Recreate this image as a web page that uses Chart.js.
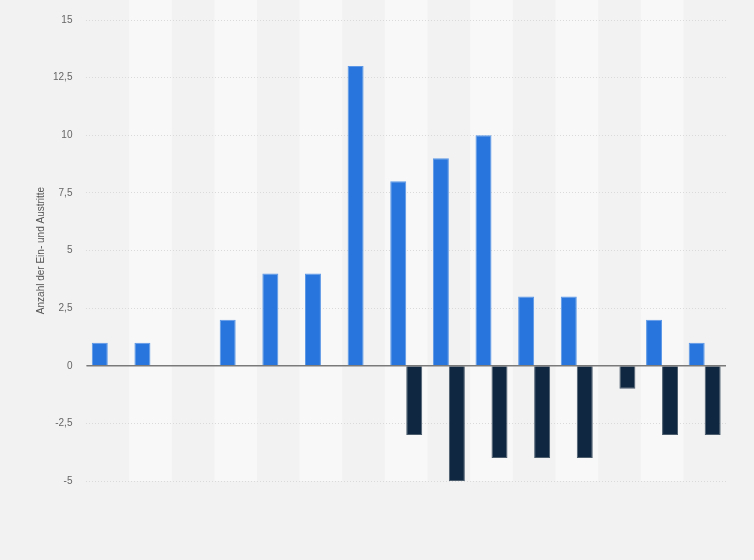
<!DOCTYPE html>
<html>
<head>
<meta charset="utf-8">
<script src="https://cdn.jsdelivr.net/npm/chart.js"></script>
<style>
  html, body { margin: 0; padding: 0; background: #f2f2f2; }
  #wrap { width: 754px; height: 560px; }
</style>
</head>
<body>
<div id="wrap"><canvas id="chart" width="754" height="560"></canvas></div>
<script>
// categories (no labels shown on the picture)
const categories = ['1', '2', '3', '4', '5', '6', '7', '8', '9', '10', '11', '12', '13', '14', '15'];
const eintritte = [1, 1, null, 2, 4, 4, 13, 8, 9, 10, 3, 3, null, 2, 1];
const austritte = [null, null, null, null, null, null, null, -3, -5, -4, -4, -4, -1, -3, -3];
const yTicks = [-5, -2.5, 0, 2.5, 5, 7.5, 10, 12.5, 15];

// light background + alternating column bands
const bands = {
  id: 'bands',
  beforeDraw(chart) {
    const ctx = chart.ctx, x = chart.scales.x, area = chart.chartArea;
    ctx.save();
    ctx.fillStyle = '#f2f2f2';
    ctx.fillRect(0, 0, chart.width, chart.height);
    ctx.fillStyle = '#f8f8f8';
    const w = x.getPixelForValue(1) - x.getPixelForValue(0);
    categories.forEach((c, i) => {
      if (i % 2 === 1) {
        ctx.fillRect(x.getPixelForValue(i) - w / 2, 0, w, area.bottom);
      }
    });
    ctx.restore();
  }
};

// solid zero line
const zeroLine = {
  id: 'zeroLine',
  afterDatasetsDraw(chart) {
    const ctx = chart.ctx, y = chart.scales.y.getPixelForValue(0), area = chart.chartArea;
    ctx.save();
    ctx.strokeStyle = '#7a7a7a';
    ctx.lineWidth = 1.5;
    ctx.beginPath();
    ctx.moveTo(area.left, y);
    ctx.lineTo(area.right, y);
    ctx.stroke();
    ctx.restore();
  }
};

new Chart(document.getElementById('chart').getContext('2d'), {
  type: 'bar',
  data: {
    labels: categories,
    datasets: [{
      label: 'Eintritte',
      data: eintritte,
      backgroundColor: '#2876dd',
      borderColor: '#5b97e6',
      borderWidth: 1,
      categoryPercentage: 0.75,
      barPercentage: 1
    }, {
      label: 'Austritte',
      data: austritte,
      backgroundColor: '#0f2740',
      borderColor: '#4c5d6e',
      borderWidth: 1,
      categoryPercentage: 0.75,
      barPercentage: 1
    }]
  },
  options: {
    responsive: false,
    animation: false,
    layout: { padding: { top: 14, right: 28, bottom: 71, left: 35 } },
    plugins: { legend: { display: false }, tooltip: { enabled: false } },
    scales: {
      x: {
        ticks: { display: false },
        grid: { display: false },
        border: { display: false }
      },
      y: {
        min: -5,
        max: 15,
        afterBuildTicks(axis) { axis.ticks = yTicks.map(v => ({ value: v })); },
        ticks: {
          color: '#666',
          font: { family: 'Arial, "Liberation Sans", sans-serif', size: 10 },
          padding: 14,
          callback: v => String(v).replace('.', ',')
        },
        grid: { color: '#dadada', drawTicks: false, lineWidth: 1 },
        border: { display: false, dash: [1, 2] },
        title: {
          display: true,
          text: 'Anzahl der Ein- und Austritte',
          color: '#555',
          font: { family: 'Arial, "Liberation Sans", sans-serif', size: 10 },
          padding: { top: 0, bottom: -8 }
        }
      }
    }
  },
  plugins: [bands, zeroLine]
});
</script>
</body>
</html>
